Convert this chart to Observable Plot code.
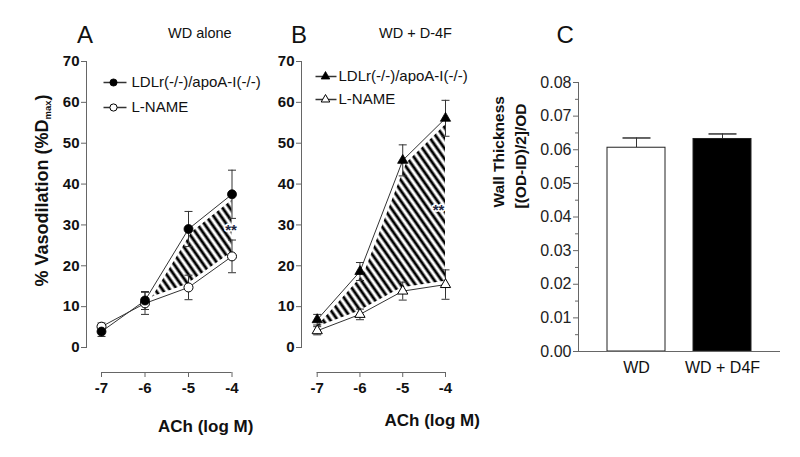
<!DOCTYPE html>
<html><head><meta charset="utf-8">
<script src="https://cdn.jsdelivr.net/npm/d3@7"></script>
<script src="https://cdn.jsdelivr.net/npm/@observablehq/plot@0.6"></script>
<style>
html,body{margin:0;padding:0;background:#fff;}
#wrap{position:relative;width:800px;height:457px;overflow:hidden;background:#fff;}
#wrap svg{position:absolute;left:0;top:0;background:transparent;font-family:"Liberation Sans",Arial,Helvetica,sans-serif;}
</style></head><body><div id="wrap"></div>
<script>
// ---------- data ----------
const doses = [-7, -6, -5, -4];
const yTicksAB = [0, 10, 20, 30, 40, 50, 60, 70];
// Panel A: WD alone
const aFilled = [3.9, 11.5, 29.0, 37.5];
const aFilledSem = [1.2, 2.2, 4.3, 5.9];
const aOpen = [5.1, 10.8, 14.7, 22.3];
const aOpenSem = [0.9, 2.7, 3.0, 4.0];
const starsA = [{x: -4, y: 28.6}];
// Panel B: WD + D-4F
const bFilled = [6.8, 18.6, 45.8, 56.1];
const bFilledSem = [1.3, 2.2, 3.8, 4.4];
const bOpen = [4.1, 8.1, 13.8, 15.4];
const bOpenSem = [1.0, 1.3, 2.2, 3.6];
const starsB = [{x: -4, y: 33.7}];
const legendLabels = ["LDLr(-/-)/apoA-I(-/-)", "L-NAME"];
// Panel C
const groupsC = ["WD", "WD + D4F"];
const wallC = [0.0606, 0.0632];
const wallSemC = [0.0029, 0.0015];
const yTicksC = [0, 0.01, 0.02, 0.03, 0.04, 0.05, 0.06, 0.07, 0.08];
const yMinorC = [0.005, 0.015, 0.025, 0.035, 0.045, 0.055, 0.065, 0.075];

// ---------- style ----------
const FONT = "Liberation Sans, Arial, Helvetica, sans-serif";
const INK = "#111", AX = "#666", LN = "#333";
const capSym = hw => ({draw(ctx) { ctx.moveTo(-hw, 0); ctx.lineTo(hw, 0); }});
const wrap = document.getElementById("wrap");

function addHatch(svg, id) {
  const defs = d3.select(svg).insert("defs", ":first-child");
  const p = defs.append("pattern").attr("id", id).attr("patternUnits", "userSpaceOnUse")
    .attr("width", 6).attr("height", 10).attr("patternTransform", "rotate(-35)");
  p.append("rect").attr("width", 6).attr("height", 10).attr("fill", "white");
  p.append("line").attr("x1", 3).attr("x2", 3).attr("y1", -1).attr("y2", 11)
    .attr("stroke", "black").attr("stroke-width", 2.9);
}

function place(svg) {
  svg.style.position = "absolute"; svg.style.left = "0px"; svg.style.top = "0px";
  svg.style.background = "transparent"; svg.style.maxWidth = "none";
  wrap.appendChild(svg);
}

function label(text, opts) {
  return Plot.text([text], {x: null, y: null, frameAnchor: "top-left", lineAnchor: "middle",
    text: d => d, fontFamily: FONT, fill: INK, ...opts});
}

function panelDR(cfg) {
  const rows = doses.map((x, i) => ({x, f: cfg.filled[i], fe: cfg.filledSem[i], o: cfg.open[i], oe: cfg.openSem[i]}));
  const long = rows.flatMap(d => [{x: d.x, v: d.f, e: d.fe}, {x: d.x, v: d.o, e: d.oe}]);
  const sym = cfg.symbol;
  const filledDot = {symbol: sym, r: cfg.r, fill: "black", stroke: "black", strokeWidth: 0.8};
  const openDot = {symbol: sym, r: cfg.r, fill: "white", stroke: "black", strokeWidth: 1};
  const lg = cfg.legend;
  const marks = [
    Plot.areaY(rows, {x: "x", y1: "o", y2: "f", fill: `url(#${cfg.id})`}),
    Plot.line(rows, {x: "x", y: "f", stroke: "white", strokeWidth: 8}),
    Plot.line(rows, {x: "x", y: "o", stroke: "white", strokeWidth: 8}),
    Plot.line(rows, {x: "x", y: "f", stroke: LN, strokeWidth: 1}),
    Plot.line(rows, {x: "x", y: "o", stroke: LN, strokeWidth: 1}),
    Plot.ruleX(long, {x: "x", y1: d => d.v - d.e, y2: d => d.v + d.e, stroke: LN, strokeWidth: 1}),
    Plot.dot(long, {x: "x", y: d => d.v + d.e, symbol: capSym(4), fill: "none", stroke: LN, strokeWidth: 1}),
    Plot.dot(long, {x: "x", y: d => d.v - d.e, symbol: capSym(4), fill: "none", stroke: LN, strokeWidth: 1}),
    Plot.dot(rows, {x: "x", y: "o", ...openDot}),
    Plot.dot(rows, {x: "x", y: "f", ...filledDot}),
    Plot.text(cfg.stars, {x: "x", y: "y", text: () => "**", dx: cfg.starDx, fontFamily: FONT, fontSize: 15,
      fontWeight: "bold", fill: "#1c2540", stroke: "white", strokeWidth: 3}),
    Plot.frame({anchor: "left", stroke: AX}),
    Plot.ruleY([0], {x1: doses[0], x2: doses[doses.length - 1], dy: 25, stroke: AX}),
    Plot.axisY({ticks: yTicksAB, tickSize: 5, tickPadding: 2, label: null, stroke: AX, fill: INK,
      fontSize: 15, fontWeight: "bold", fontFamily: FONT}),
    Plot.axisX({ticks: doses, tickSize: 5, tickPadding: 5, dy: 25, label: null, stroke: AX, fill: INK,
      fontSize: 15, fontWeight: "bold", fontFamily: FONT, tickFormat: d => String(d)}),
    // panel letter, title, x label
    label(cfg.letter, {dx: cfg.letterDx, dy: -26.5, fontSize: 24}),
    label(cfg.title, {dx: cfg.titleDx, dy: -28, fontSize: 14.5}),
    label("ACh (log M)", {dx: cfg.xlabDx, dy: cfg.xlabDy, fontSize: 17, fontWeight: "bold"}),
    // legend
    Plot.dot([0], {x: null, y: null, frameAnchor: "top-left", dx: lg.lineDx, dy: lg.dy1, symbol: capSym(lg.half), fill: "none", stroke: LN}),
    Plot.dot([0], {x: null, y: null, frameAnchor: "top-left", dx: lg.lineDx, dy: lg.dy2, symbol: capSym(lg.half), fill: "none", stroke: LN}),
    Plot.dot([0], {x: null, y: null, frameAnchor: "top-left", dx: lg.dotDx, dy: lg.dy1, ...filledDot, r: lg.r}),
    Plot.dot([0], {x: null, y: null, frameAnchor: "top-left", dx: lg.dotDx, dy: lg.dy2, ...openDot, r: lg.r}),
    label(legendLabels[0], {dx: lg.textDx, dy: lg.dy1, fontSize: 15, textAnchor: "start"}),
    label(legendLabels[1], {dx: lg.textDx, dy: lg.dy2, fontSize: 15, textAnchor: "start"}),
    ...(cfg.extra || [])
  ];
  const svg = Plot.plot({
    width: 800, height: 457,
    marginLeft: cfg.left, marginRight: 800 - cfg.xr[1], marginTop: 61, marginBottom: 110,
    x: {domain: [doses[0], doses[doses.length - 1]], range: cfg.xr},
    y: {domain: [0, 70]},
    marks
  });
  addHatch(svg, cfg.id);
  place(svg);
}

// Panel A
panelDR({
  id: "hatchA", left: 86, xr: [101, 231.5],
  filled: aFilled, filledSem: aFilledSem, open: aOpen, openSem: aOpenSem,
  symbol: "circle", r: 4.5, stars: starsA, starDx: -1,
  letter: "A", letterDx: -9.5, title: "WD alone", titleDx: 81.5, xlabDx: 71.5, xlabDy: 365,
  legend: {lineDx: 28.5, dotDx: 27, textDx: 45, dy1: 21, dy2: 46, half: 11.5, r: 3.6},
  extra: [
    label("% Vasodilation (%D", {dx: -44, dy: 58, rotate: -90, textAnchor: "end", fontSize: 18, fontWeight: "bold"}),
    label("max", {dx: -39, dy: 58, rotate: -90, textAnchor: "start", fontSize: 9.5, fontWeight: "bold"}),
    label(")", {dx: -44, dy: 39, rotate: -90, textAnchor: "start", fontSize: 18, fontWeight: "bold"})
  ]
});

// Panel B
panelDR({
  id: "hatchB", left: 301, xr: [316.7, 445],
  filled: bFilled, filledSem: bFilledSem, open: bOpen, openSem: bOpenSem,
  symbol: "triangle", r: 3.8, stars: starsB, starDx: -7,
  letter: "B", letterDx: -10.5, title: "WD + D-4F", titleDx: 77.5, xlabDx: 83, xlabDy: 359.5,
  legend: {lineDx: 24.5, dotDx: 24, textDx: 37, dy1: 15, dy2: 38, half: 10.5, r: 3.2}
});

// Panel C
{
  const rowsC = groupsC.map((g, i) => ({g, v: wallC[i], e: wallSemC[i]}));
  const svg = Plot.plot({
    width: 800, height: 457,
    marginLeft: 578, marginRight: 21, marginTop: 82, marginBottom: 106,
    x: {domain: groupsC, padding: 0.33},
    y: {domain: [0, 0.08]},
    color: {domain: groupsC, range: ["white", "black"]},
    marks: [
      Plot.ruleX(rowsC, {x: "g", y1: "v", y2: d => d.v + d.e, stroke: LN}),
      Plot.dot(rowsC, {x: "g", y: d => d.v + d.e, symbol: capSym(14), fill: "none", stroke: LN}),
      Plot.barY(rowsC, {x: "g", y: "v", fill: "g", stroke: "#222", strokeWidth: 1}),
      Plot.frame({anchor: "left", stroke: AX}),
      Plot.frame({anchor: "bottom", stroke: AX}),
      Plot.axisY({ticks: yTicksC, tickFormat: d3.format(".2f"), tickSize: 5, tickPadding: 2, label: null,
        stroke: AX, fill: "#222", fontSize: 16, fontFamily: FONT}),
      Plot.axisY({ticks: yMinorC, tickFormat: () => "", tickSize: 3, label: null, stroke: AX}),
      Plot.axisX({tickSize: 0, tickPadding: 10, label: null, fill: "#111", fontSize: 16, fontFamily: FONT}),
      label("C", {dx: -22, dy: -47, fontSize: 24}),
      label("Wall Thickness", {dx: -79, dy: 125, rotate: -90, fontSize: 15.5, fontWeight: "bold"}),
      label("[(OD-ID)/2]/OD", {dx: -57, dy: 126, rotate: -90, fontSize: 15.5, fontWeight: "bold"})
    ]
  });
  place(svg);
}
</script></body></html>
